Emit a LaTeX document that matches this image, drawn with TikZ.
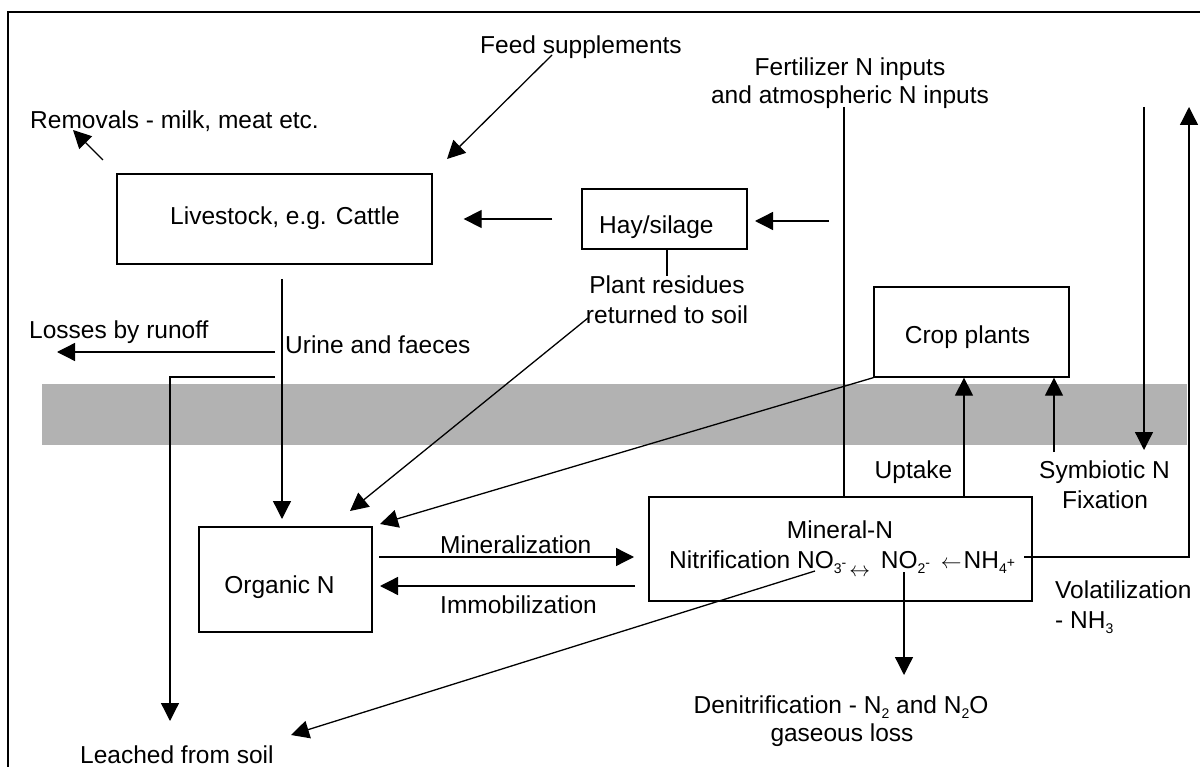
\documentclass[tikz,border=0pt]{standalone}
\usepackage{fontspec}
\setmainfont{Liberation Sans}
\usetikzlibrary{arrows.meta}
\newcommand{\sbs}[1]{\raisebox{-5pt}{\fontsize{14}{14}\selectfont #1}}
\newcommand{\sps}[1]{\raisebox{1pt}{\fontsize{14}{14}\selectfont #1}}
\newcommand{\arrLR}{\raisebox{-8pt}{\fontsize{22}{22}\selectfont$\leftrightarrow$}}
\newcommand{\arrL}{{\fontsize{22}{22}\selectfont$\leftarrow$}}
\definecolor{bandgray}{RGB}{178,178,178}
\begin{document}
\begin{tikzpicture}[x=1pt,y=-1pt,
  every node/.style={font=\fontsize{24.5}{28}\selectfont},
  box/.style={draw,line width=1.3pt,inner sep=0pt},
  lbl/.style={inner sep=0pt,text height=17.5pt,text depth=0pt},
  conn/.style={line width=1.3pt},
  arr/.style={conn,-{Triangle[length=18pt,width=18pt]}}]
\useasboundingbox (0,0) rectangle (1200,767);
% frame and soil band
\draw[line width=1.3pt] (8,767) -- (8,12) -- (1200,12);
\fill[bandgray] (42,384) rectangle (1187,445);

% boxes
\node[box,minimum width=315pt,minimum height=90pt] (live) at (274.5,219) {};
\node[box,minimum width=165pt,minimum height=60pt] (hay) at (664.5,219) {};
\node[box,minimum width=195pt,minimum height=90pt] (crop) at (971.5,332) {};
\node[box,minimum width=173pt,minimum height=105pt] (organic) at (285.5,579.5) {};
\node[box,minimum width=383pt,minimum height=104pt] (mineral) at (840.5,549) {};

% box labels
\node[lbl,anchor=west] (liveT) at (170,216) {Livestock, e.g. Cattle};
\node[lbl,anchor=west] (hayT) at (599,225) {Hay/silage};
\node[lbl] (cropT) at (967.5,335) {Crop plants};
\node[lbl] (organicT) at (279.5,585) {Organic N};
\node[lbl] (minN) at (840,530) {Mineral-N};
\node[lbl,anchor=west] (nitr) at (669,560) {Nitrification NO\sbs{3}\sps{-}\hspace{3pt}\arrLR\hspace{4pt} NO\sbs{2}\sps{-}\hspace{4pt} \arrL\hspace{2pt}NH\sbs{4}\sps{+}};

% free labels
\node[lbl,anchor=west] (feed) at (480,45) {Feed supplements};
\node[lbl,anchor=west] (removals) at (30,120) {Removals - milk, meat etc.};
\node[lbl] (fert1) at (850,67) {Fertilizer N inputs};
\node[lbl] (fert2) at (850,95) {and atmospheric N inputs};
\node[lbl] (res1) at (667,285) {Plant residues};
\node[lbl] (res2) at (667,315) {returned to soil};
\node[lbl,anchor=west] (runoff) at (29,330) {Losses by runoff};
\node[lbl,anchor=west] (urine) at (285,345) {Urine and faeces};
\node[lbl,anchor=west] (minz) at (440,545) {Mineralization};
\node[lbl,anchor=west] (immo) at (440,605) {Immobilization};
\node[lbl] (uptake) at (913.5,470) {Uptake};
\node[lbl] (symb1) at (1104.5,470) {Symbiotic N};
\node[lbl] (symb2) at (1105,500) {Fixation};
\node[lbl,anchor=west] (vol1) at (1055,590) {Volatilization};
\node[lbl,anchor=west] (vol2) at (1055,620) {- NH\sbs{3}};
\node[lbl] (den1) at (841,705) {Denitrification - N\sbs{2} and N\sbs{2}O};
\node[lbl] (den2) at (842,733) {gaseous loss};
\node[lbl,anchor=west] (leached) at (80,755) {Leached from soil};

% connector end points
\coordinate (feedS) at (552,55);
\coordinate (feedE) at (447,159);
\coordinate (remS) at (103,160);
\coordinate (remE) at (73,130);
\coordinate (fertTop) at (844,107);
\coordinate (fhS) at (829,221);
\coordinate (fhE) at (755,221);
\coordinate (resS) at (588,318);
\coordinate (resE) at (350,511);
\coordinate (cropE) at (380,524);
\coordinate (urS) at (282,279);
\coordinate (urE) at (282,519);
\coordinate (runS) at (275,352);
\coordinate (runE) at (57,352);
\coordinate (leachS) at (275,377);
\coordinate (leachE) at (170,721);
\coordinate (minS) at (379,557);
\coordinate (minE) at (634,557);
\coordinate (immS) at (635,586);
\coordinate (immE) at (380,586);
\coordinate (upX) at (964,0);
\coordinate (symS) at (1054,452);
\coordinate (symTop) at (1144,107);
\coordinate (symE) at (1144,450);
\coordinate (volS) at (1024,557);
\coordinate (volE) at (1189,107);
\coordinate (no2S) at (904,572);
\coordinate (no2E) at (904,675);
\coordinate (no3S) at (815,571);
\coordinate (no3E) at (291,735);

% connectors
\draw[arr] (feedS) -- (feedE);
\draw[arr] (remS) -- (remE);
\draw[arr] ([xshift=-29pt]hay.west) -- ([xshift=31pt]live.east);
\draw[arr] (fhS) -- (fhE);
\draw[conn] (fertTop) -- (fertTop |- mineral.north);
\draw[conn] (hay.south -| res1.north) -- (res1.north);
\draw[arr] (resS) -- (resE);
\draw[arr] (crop.south west) -- (cropE);
\draw[arr] (urS) -- (urE);
\draw[arr] (runS) -- (runE);
\draw[arr] (leachS) -| (leachE);
\draw[arr] (minS) -- (minE);
\draw[arr] (immS) -- (immE);
\draw[arr] (mineral.north -| upX) -- (crop.south -| upX);
\draw[arr] (symS) -- (crop.south -| symS);
\draw[arr] (symTop) -- (symE);
\draw[arr] (volS) -| (volE);
\draw[arr] (no2S) -- (no2E);
\draw[arr] (no3S) -- (no3E);
\end{tikzpicture}
\end{document}
